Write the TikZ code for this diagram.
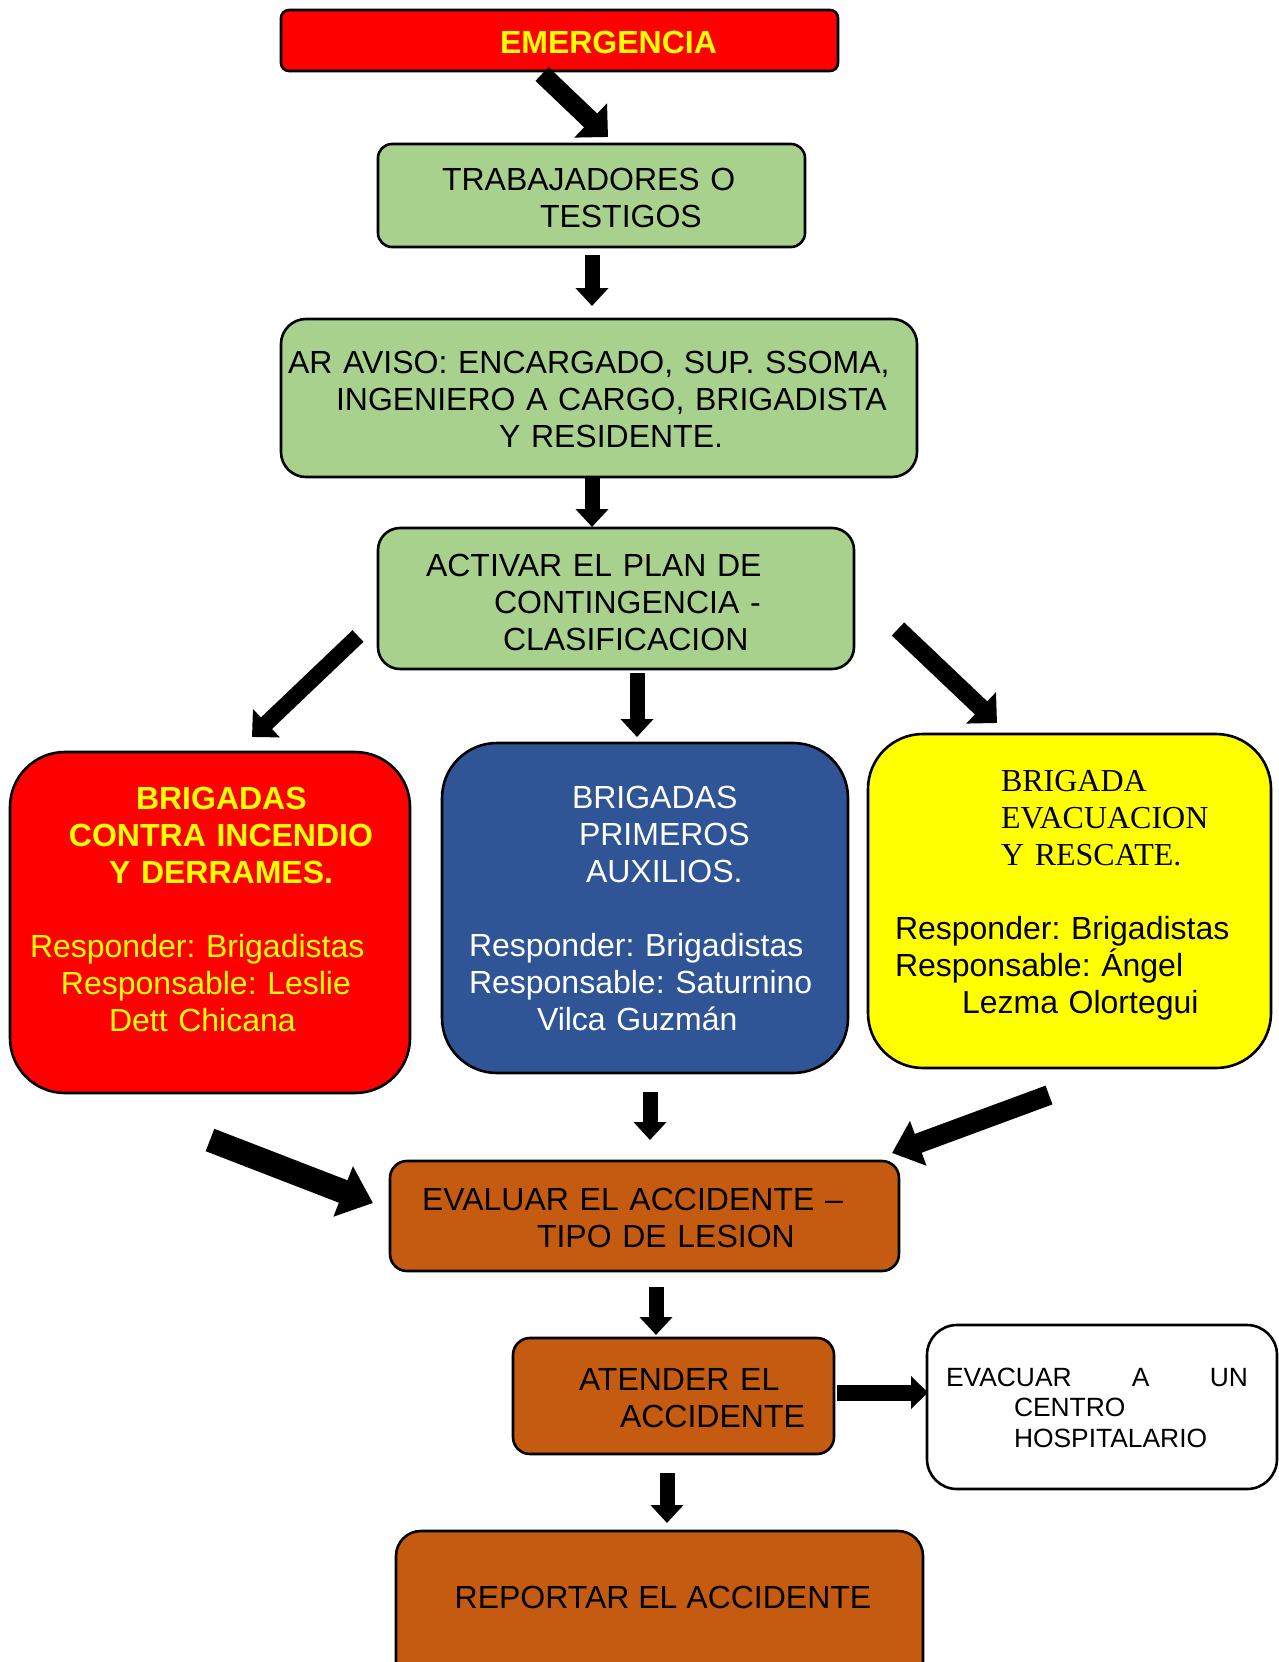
\documentclass[tikz,border=0pt]{standalone}
\usepackage{fontspec}
\setmainfont{Liberation Sans}
\newfontfamily\serifrm{Liberation Serif}
\usetikzlibrary{arrows.meta}
\frenchspacing
\definecolor{grn}{HTML}{A9D18E}
\definecolor{blu}{HTML}{2F5597}
\definecolor{org}{HTML}{C55A11}
\definecolor{yel}{HTML}{FFFF00}
\definecolor{rd}{HTML}{FF0000}
\begin{document}
\begin{tikzpicture}[x=1pt,y=-1pt,
  box/.style={draw=black, line width=2.6pt, inner sep=0pt, outer sep=0pt},
  txt/.style={inner sep=0pt, outer sep=0pt, anchor=base west, align=left, text width=800pt, font=\frenchspacing\fontsize{32}{37}\selectfont},
  txtone/.style={inner sep=0pt, outer sep=0pt, font=\fontsize{32}{37}\selectfont},
  barrow/.style n args={3}{line width=#1, -{Triangle[length=#2, width=#3]}}
]
\useasboundingbox (0,0) rectangle (1278,1662);
\fill[white] (0,0) rectangle (1278,1662);

% boxes
\node[box, fill=rd, rounded corners=8pt, minimum width=557pt, minimum height=61pt] (emer) at (559.5,40.5) {};
\node[box, fill=grn, rounded corners=14pt, minimum width=427pt, minimum height=103pt] (trab) at (591.5,195.5) {};
\node[box, fill=grn, rounded corners=25pt, minimum width=636pt, minimum height=158pt] (aviso) at (599,398) {};
\node[box, fill=grn, rounded corners=22pt, minimum width=476pt, minimum height=141pt] (activar) at (616,598.5) {};
\node[box, fill=rd, rounded corners=55pt, minimum width=400pt, minimum height=341pt] (red) at (210,922.5) {};
\node[box, fill=blu, rounded corners=55pt, minimum width=406pt, minimum height=330pt] (blue) at (645,908) {};
\node[box, fill=yel, rounded corners=55pt, minimum width=403pt, minimum height=334pt] (yellow) at (1069.5,901) {};
\node[box, fill=org, rounded corners=17pt, minimum width=509pt, minimum height=110pt] (evaluar) at (644.5,1216) {};
\node[box, fill=org, rounded corners=17pt, minimum width=321pt, minimum height=116pt] (atender) at (673.5,1396) {};
\node[box, fill=white, rounded corners=30pt, minimum width=350pt, minimum height=164pt] (evacuar) at (1102,1407) {};
\node[box, fill=org, rounded corners=25pt, minimum width=527pt, minimum height=169pt] (reportar) at (659.5,1615.5) {};

% texts
\node[txtone, anchor=base west, text=yel, font=\bfseries\fontsize{32}{37}\selectfont] (temer) at (500,54) {EMERGENCIA};
\node[txt] (ttrab) at (442,190) {TRABAJADORES O\\\hspace*{98pt}TESTIGOS};
\node[txt] (taviso) at (288,373) {AR AVISO: ENCARGADO, SUP. SSOMA,\\\hspace*{48pt}INGENIERO A CARGO, BRIGADISTA\\\hspace*{211pt}Y RESIDENTE.};
\node[txt] (tactivar) at (426,576) {ACTIVAR EL PLAN DE\\\hspace*{68pt}CONTINGENCIA -\\\hspace*{77pt}CLASIFICACION};
\node[txt, text=yel] (tred) at (30,809.5) {\bfseries\hspace*{106pt}BRIGADAS\\\hspace*{39pt}CONTRA INCENDIO\\\hspace*{79pt}Y DERRAMES.\\[37pt]\mdseries Responder: Brigadistas\\\hspace*{31pt}Responsable: Leslie\\\hspace*{79pt}Dett Chicana};
\node[txt, text=white] (tblue) at (469,808.5) {\hspace*{103pt}BRIGADAS\\\hspace*{110pt}PRIMEROS\\\hspace*{117pt}AUXILIOS.\\[37pt]Responder: Brigadistas\\Responsable: Saturnino\\\hspace*{68pt}Vilca Guzmán};
\node[txt] (tyellow) at (895,791.5) {\serifrm\hspace*{106pt}BRIGADA\\\hspace*{106pt}EVACUACION\\\hspace*{106pt}Y RESCATE.\\[37pt]\normalfont Responder: Brigadistas\\Responsable: Ángel\\\hspace*{67pt}Lezma Olortegui};
\node[txt] (tevaluar) at (422,1210) {EVALUAR EL ACCIDENTE –\\\hspace*{115pt}TIPO DE LESION};
\node[txt] (tatender) at (579,1390) {ATENDER EL\\\hspace*{41pt}ACCIDENTE};
\node[txt, font=\fontsize{26.4}{30.7}\selectfont] (tevacuar) at (946,1386) {\makebox[302pt][l]{EVACUAR\hfill A\hfill UN}\\\hspace*{68pt}CENTRO\\\hspace*{68pt}HOSPITALARIO};
\node[txtone, anchor=base] (treportar) at (663,1608.5) {REPORTAR EL ACCIDENTE};

% arrow endpoints
\coordinate (a1s) at (542,74);   \coordinate (a1e) at (608,137);
\coordinate (a2s) at (592,255);  \coordinate (a2e) at (592,306);
\coordinate (a3s) at (592,478);  \coordinate (a3e) at (592,527);
\coordinate (a4s) at (358,636);  \coordinate (a4e) at (252,737);
\coordinate (a5s) at (637,673);  \coordinate (a5e) at (637,737);
\coordinate (a6s) at (898,629);  \coordinate (a6e) at (997,723);
\coordinate (a7s) at (650,1092); \coordinate (a7e) at (650,1140);
\coordinate (a8s) at (210,1140); \coordinate (a8e) at (373,1203);
\coordinate (a9s) at (1049,1095);\coordinate (a9e) at (892,1153);
\coordinate (a10s) at (656,1287);\coordinate (a10e) at (656,1335);
\coordinate (a11s) at (837,1392.5);\coordinate (a11e) at (928,1392.5);
\coordinate (a12s) at (667,1473);\coordinate (a12e) at (667,1523);

% arrows
\draw[barrow={19pt}{24pt}{46pt}] (a1s) -- (a1e);
\draw[barrow={15pt}{18pt}{32pt}] (a2s) -- (a2e);
\draw[barrow={15pt}{18pt}{32pt}] (a3s) -- (a3e);
\draw[barrow={16pt}{20pt}{38pt}] (a4s) -- (a4e);
\draw[barrow={15pt}{18pt}{32pt}] (a5s) -- (a5e);
\draw[barrow={18pt}{22pt}{42pt}] (a6s) -- (a6e);
\draw[barrow={15pt}{18pt}{32pt}] (a7s) -- (a7e);
\draw[barrow={24pt}{32pt}{52pt}] (a8s) -- (a8e);
\draw[barrow={20pt}{28pt}{46pt}] (a9s) -- (a9e);
\draw[barrow={15pt}{18pt}{32pt}] (a10s) -- (a10e);
\draw[barrow={16pt}{17pt}{32pt}] (a11s) -- (a11e);
\draw[barrow={15pt}{18pt}{32pt}] (a12s) -- (a12e);
\end{tikzpicture}
\end{document}
